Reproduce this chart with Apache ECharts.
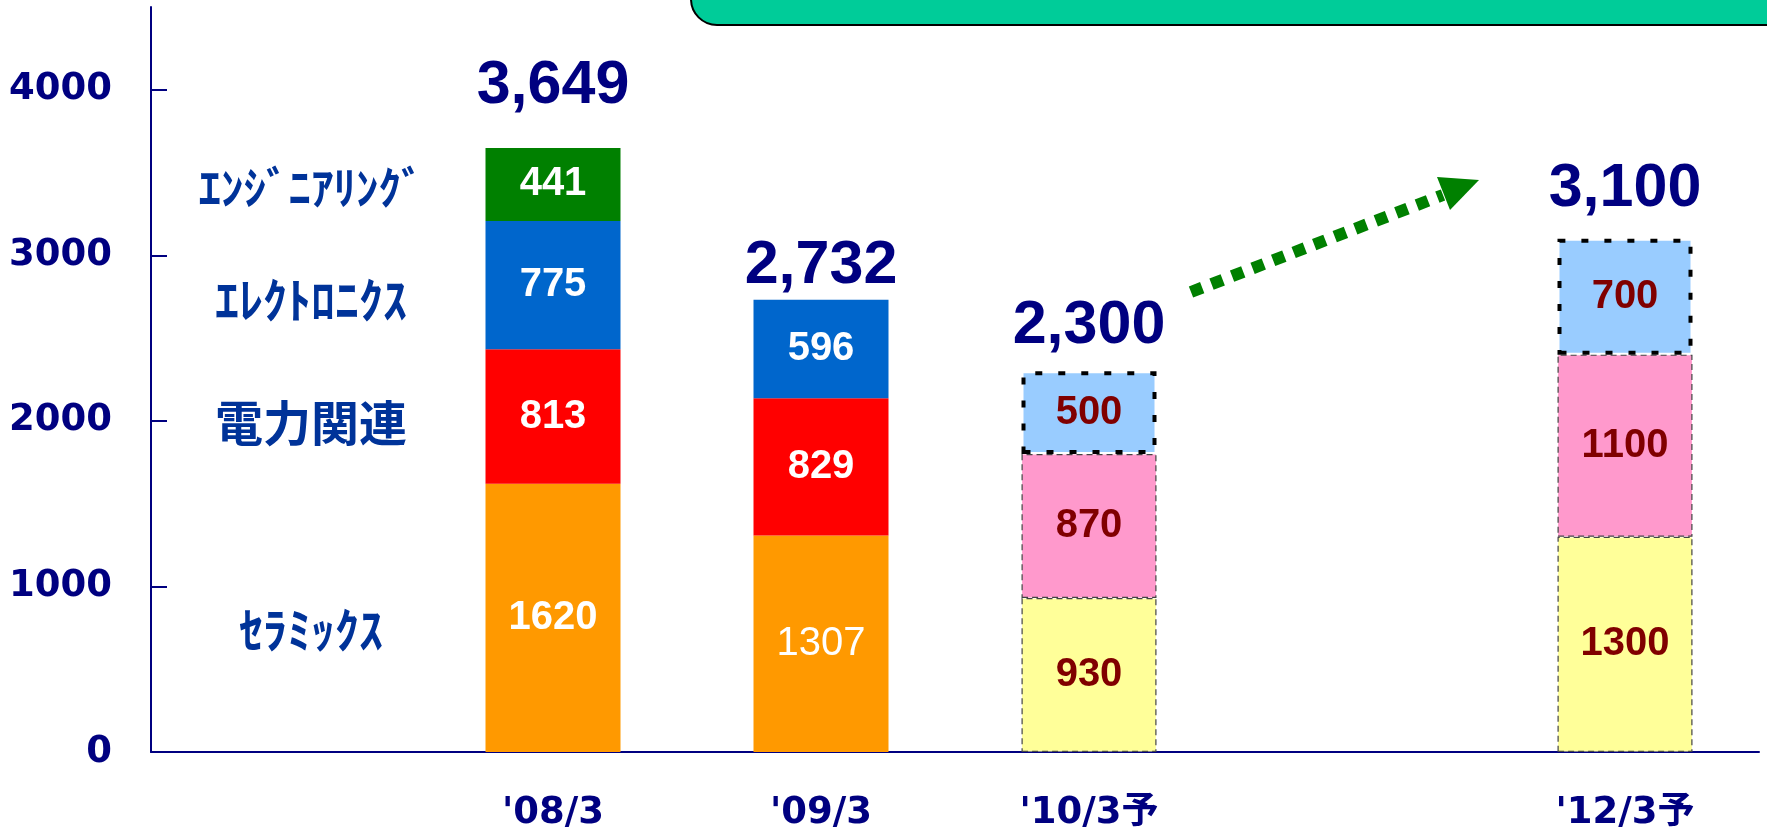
<!DOCTYPE html>
<html>
<head>
<meta charset="utf-8">
<script src="https://cdn.jsdelivr.net/npm/echarts@6.0.0/dist/echarts.min.js"></script>
<style>
html, body { margin: 0; padding: 0; background: #fff; }
#main { width: 1767px; height: 831px; }
</style>
</head>
<body>
<div id="main"></div>
<script>
// 区分: 実績 ('08/3, '09/3) と 予想 ('10/3予, '12/3予)
const categories = ['', "'08/3", "'09/3", "'10/3予", '', "'12/3予"];
const isForecast = [false, false, false, true, false, true];

const ceramics = [null, 1620, 1307, 930, null, 1300];
const power = [null, 813, 829, 870, null, 1100];
const electronics = [null, 775, 596, 500, null, 700];
const engineering = [null, 441, null, null, null, null];
const totals = [null, 3649, 2732, 2300, null, 3100];

const segmentNames = ['ｾﾗﾐｯｸｽ', '電力関連', 'ｴﾚｸﾄﾛﾆｸｽ', 'ｴﾝｼﾞﾆｱﾘﾝｸﾞ'];
const yTicks = [0, 1000, 2000, 3000, 4000];

const actualColors = ['#FF9900', '#FF0000', '#0066CC', '#008000'];
const forecastColors = ['#FFFF99', '#FF99CC', '#99CCFF'];
const navy = '#000080';
const numFont = '"Liberation Sans", Arial, sans-serif';
const axisFont = '"DejaVu Sans", Verdana, "Noto Sans CJK JP", sans-serif';
const jpFont = '"Noto Sans CJK JP", sans-serif';

// label tweaks (px)
const totalLift = [0, 62, 34, 45, 0, 50];
const nameShift = [12, 6, 15, 4];
const nameSize = [48, 48, 48, 45];

const segments = [ceramics, power, electronics, engineering];

function segItem(v, i, k) {
  if (v == null) return null;
  const fc = isForecast[i];
  let style;
  if (!fc) {
    style = { color: actualColors[k] };
  } else if (k === 2) {
    style = { color: forecastColors[k], borderColor: '#000', borderWidth: 4, borderType: [7, 16] };
  } else {
    style = { color: forecastColors[k], borderColor: '#444', borderWidth: 1.2, borderType: [6, 4] };
  }
  return {
    value: v,
    itemStyle: style,
    label: {
      color: fc ? '#800000' : '#fff',
      fontWeight: (i === 2 && k === 0) ? 'normal' : 'bold'
    }
  };
}

const barSeries = segments.map((arr, k) => ({
  name: segmentNames[k],
  type: 'bar',
  stack: 'total',
  barWidth: 135,
  data: arr.map((v, i) => segItem(v, i, k)),
  label: {
    show: true,
    position: 'inside',
    fontFamily: numFont,
    fontSize: 40
  }
}));

// 合計
const totalSeries = {
  type: 'scatter',
  symbolSize: 1,
  silent: true,
  z: 5,
  itemStyle: { color: 'rgba(0,0,0,0)', opacity: 1 },
  data: totals.map((v, i) => v == null ? null : {
    value: [i, v],
    label: { offset: [0, -totalLift[i]] }
  }),
  label: {
    show: true,
    position: 'inside',
    color: navy,
    fontFamily: numFont,
    fontWeight: 'bold',
    fontSize: 61,
    formatter: p => p.value[1].toLocaleString('en-US')
  }
};

// 左側の区分名 ('08/3 の各区分の中央に合わせる)
let base = 0;
const nameData = segmentNames.map((name, k) => {
  const v = segments[k][1];
  const mid = base + v / 2;
  base += v;
  return {
    value: [0, mid],
    name: name,
    label: { offset: [26, nameShift[k]], fontSize: nameSize[k] }
  };
});

const nameSeries = {
  type: 'scatter',
  symbolSize: 1,
  silent: true,
  itemStyle: { color: 'rgba(0,0,0,0)', opacity: 1 },
  data: nameData,
  label: {
    show: true,
    position: 'inside',
    color: '#003399',
    fontFamily: jpFont,
    fontWeight: 'bold',
    formatter: p => p.name
  }
};

const chart = echarts.init(document.getElementById('main'));
chart.setOption({
  animation: false,
  backgroundColor: '#fff',
  grid: { left: 151, right: 8, top: 7, bottom: 79, containLabel: false, outerBoundsMode: 'none' },
  xAxis: {
    type: 'category',
    data: categories,
    axisLine: { lineStyle: { color: navy, width: 2 } },
    axisTick: { inside: true, length: 13, lineStyle: { color: navy, width: 2 } },
    axisLabel: {
      margin: 43,
      color: navy,
      fontFamily: axisFont,
      fontWeight: 'bold',
      fontSize: 37
    }
  },
  yAxis: {
    type: 'value',
    min: 0,
    max: 4500,
    splitLine: { show: false },
    axisLine: { show: true, lineStyle: { color: navy, width: 2 } },
    axisTick: { show: true, inside: true, length: 16, customValues: yTicks, lineStyle: { color: navy, width: 2 } },
    axisLabel: {
      customValues: yTicks,
      margin: 39,
      color: navy,
      fontFamily: axisFont,
      fontWeight: 'bold',
      fontSize: 37,
      formatter: v => String(v)
    }
  },
  series: barSeries.concat([totalSeries, nameSeries]),
  graphic: [
    {
      type: 'rect',
      left: 690,
      top: -40,
      shape: { width: 1120, height: 64, r: 26 },
      style: { fill: '#00CC99', stroke: '#000', lineWidth: 2 }
    },
    {
      type: 'line',
      shape: { x1: 1191, y1: 292, x2: 1443, y2: 195 },
      style: { stroke: '#008000', lineWidth: 12, lineDash: [12, 10] }
    },
    {
      type: 'polygon',
      shape: { points: [[1479, 180], [1437, 177], [1450, 210]] },
      style: { fill: '#008000' }
    }
  ]
});
</script>
</body>
</html>
